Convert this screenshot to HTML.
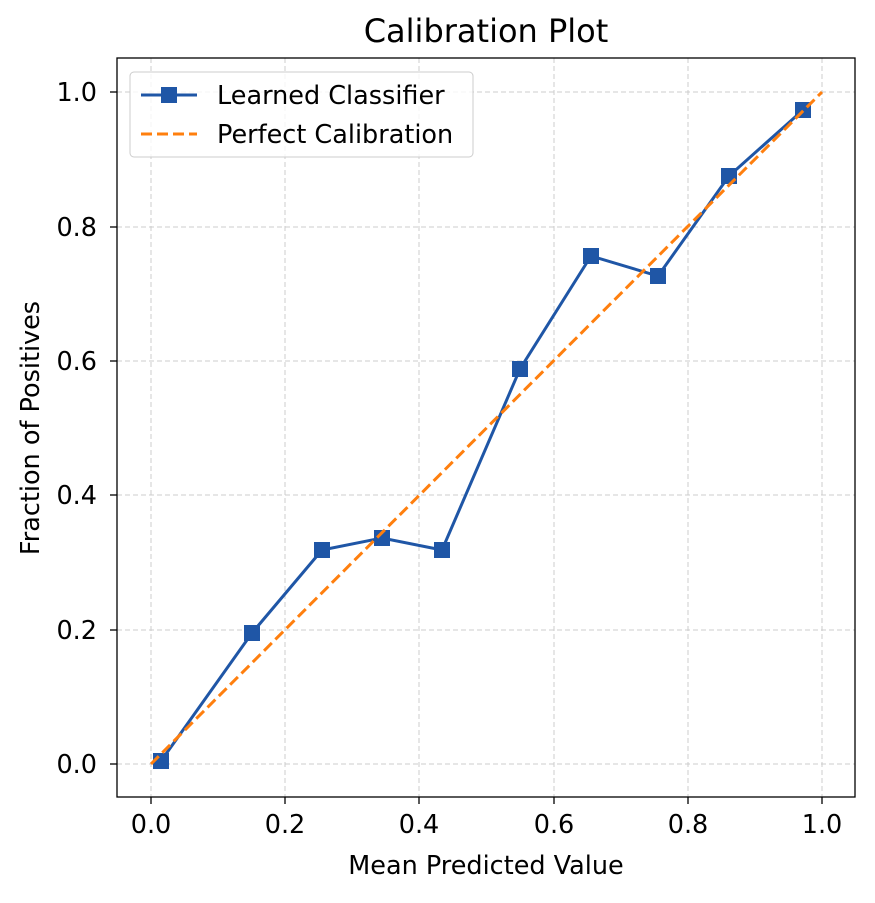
<!DOCTYPE html>
<html><head><meta charset="utf-8"><style>
body{margin:0;background:#fff;}
svg text{font-family:"DejaVu Sans","Liberation Sans",sans-serif;fill:#000;}
</style></head><body>
<svg width="875" height="898" viewBox="0 0 875 898" xmlns="http://www.w3.org/2000/svg">
<rect width="875" height="898" fill="#fff"/>
<g stroke="#cccccc" stroke-width="1" stroke-dasharray="5,3">
<line x1="151" y1="58" x2="151" y2="797"/><line x1="285" y1="58" x2="285" y2="797"/>
<line x1="419" y1="58" x2="419" y2="797"/><line x1="554" y1="58" x2="554" y2="797"/>
<line x1="688" y1="58" x2="688" y2="797"/><line x1="822" y1="58" x2="822" y2="797"/>
<line x1="117" y1="764" x2="855" y2="764"/><line x1="117" y1="630" x2="855" y2="630"/>
<line x1="117" y1="495" x2="855" y2="495"/><line x1="117" y1="361" x2="855" y2="361"/>
<line x1="117" y1="227" x2="855" y2="227"/><line x1="117" y1="92" x2="855" y2="92"/>
</g>
<polyline points="161,761 252,633 322,550 382,538 442,550 520,369 591,256 658,276 729,176 803,110" fill="none" stroke="#1f56a6" stroke-width="3"/>
<g fill="#1f56a6">
<rect x="153" y="753" width="16" height="16"/><rect x="244" y="625" width="16" height="16"/>
<rect x="314" y="542" width="16" height="16"/><rect x="374" y="530" width="16" height="16"/>
<rect x="434" y="542" width="16" height="16"/><rect x="512" y="361" width="16" height="16"/>
<rect x="583" y="248" width="16" height="16"/><rect x="650" y="268" width="16" height="16"/>
<rect x="721" y="168" width="16" height="16"/><rect x="795" y="102" width="16" height="16"/>
</g>
<line x1="151" y1="764" x2="822" y2="92" stroke="#ff7f0e" stroke-width="3" stroke-dasharray="11,5"/>
<rect x="117" y="58" width="738" height="739" fill="none" stroke="#000" stroke-width="1.3"/>
<g stroke="#000" stroke-width="1.3">
<line x1="151" y1="797" x2="151" y2="804"/><line x1="285" y1="797" x2="285" y2="804"/>
<line x1="419" y1="797" x2="419" y2="804"/><line x1="554" y1="797" x2="554" y2="804"/>
<line x1="688" y1="797" x2="688" y2="804"/><line x1="822" y1="797" x2="822" y2="804"/>
<line x1="110" y1="764" x2="117" y2="764"/><line x1="110" y1="630" x2="117" y2="630"/>
<line x1="110" y1="495" x2="117" y2="495"/><line x1="110" y1="361" x2="117" y2="361"/>
<line x1="110" y1="227" x2="117" y2="227"/><line x1="110" y1="92" x2="117" y2="92"/>
</g>
<g font-size="25.5" text-anchor="middle">
<text x="151" y="833">0.0</text><text x="285" y="833">0.2</text><text x="419" y="833">0.4</text>
<text x="554" y="833">0.6</text><text x="688" y="833">0.8</text><text x="822" y="833">1.0</text>
</g>
<g font-size="25.5" text-anchor="end">
<text x="97" y="773">0.0</text><text x="97" y="639">0.2</text><text x="97" y="504">0.4</text>
<text x="97" y="370">0.6</text><text x="97" y="236">0.8</text><text x="97" y="101">1.0</text>
</g>
<text x="486" y="874" font-size="25.5" text-anchor="middle">Mean Predicted Value</text>
<text transform="translate(39,428) rotate(-90)" font-size="25.5" text-anchor="middle">Fraction of Positives</text>
<text x="486" y="42" font-size="32" text-anchor="middle">Calibration Plot</text>
<rect x="130" y="72" width="343" height="85" rx="4" fill="#fff" fill-opacity="0.8" stroke="#cccccc"/>
<line x1="141" y1="95" x2="197" y2="95" stroke="#1f56a6" stroke-width="3"/>
<rect x="161" y="87" width="16" height="16" fill="#1f56a6"/>
<text x="217" y="104" font-size="25.5">Learned Classifier</text>
<line x1="141" y1="134" x2="197" y2="134" stroke="#ff7f0e" stroke-width="3" stroke-dasharray="11,5"/>
<text x="217" y="143" font-size="25.5">Perfect Calibration</text>
</svg>
</body></html>
